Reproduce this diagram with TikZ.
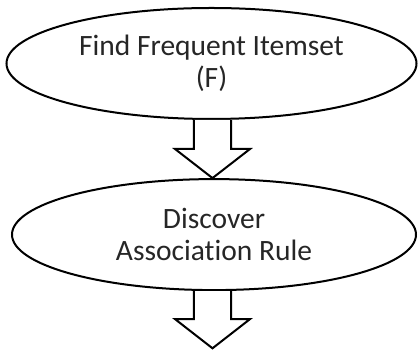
\documentclass[tikz,border=0pt]{standalone}
\usepackage{fontspec}
\setmainfont[Ligatures={NoCommon}]{Carlito}
\usetikzlibrary{shapes.geometric}
\begin{document}
\begin{tikzpicture}[x=1pt,y=1pt,
  oval/.style={draw=black,line width=2pt,ellipse,inner sep=0pt,align=center,
    font=\fontsize{29.5}{32.5}\selectfont,text=black!85},
  blockarrow/.style={draw=black,line width=2pt,fill=white,line join=miter}]
\useasboundingbox (0,0) rectangle (418,352);
\node[oval,minimum width=410pt,minimum height=111pt] (e1) at (211.5,288.5) {Find Frequent Itemset\\(F)};
\node[oval,minimum width=404pt,minimum height=111pt] (e2) at (214,117.4) {Discover\\Association Rule};
\coordinate (a1) at (212.5,0 |- e1.south);
\coordinate (a2) at (212.5,0 |- e2.south);
\coordinate (end) at (212.5,3.7);
\draw[blockarrow] ([xshift=-18.7pt]a1) -- ([xshift=-18.7pt,yshift=-29pt]a1) -- ([xshift=-37.5pt,yshift=-29pt]a1)
  -- (212.5,0 |- e2.north) -- ([xshift=37.5pt,yshift=-29pt]a1) -- ([xshift=18.7pt,yshift=-29pt]a1) -- ([xshift=18.7pt]a1);
\draw[blockarrow] ([xshift=-18.7pt]a2) -- ([xshift=-18.7pt,yshift=-28pt]a2) -- ([xshift=-37.5pt,yshift=-28pt]a2)
  -- (end) -- ([xshift=37.5pt,yshift=-28pt]a2) -- ([xshift=18.7pt,yshift=-28pt]a2) -- ([xshift=18.7pt]a2);
\end{tikzpicture}
\end{document}
